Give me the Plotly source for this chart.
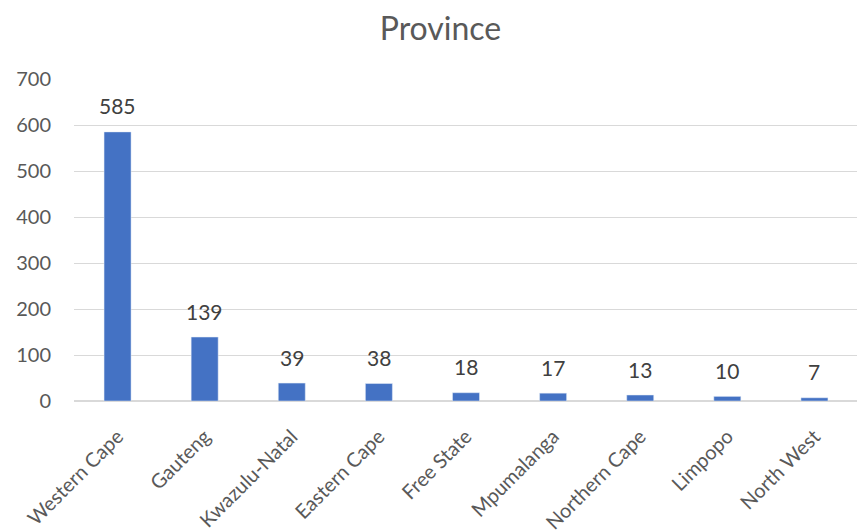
import plotly.graph_objects as go

# Dados
provinces = ["Western Cape", "Gauteng", "Kwazulu-Natal", "Eastern Cape", "Free State",
             "Mpumalanga", "Northern Cape", "Limpopo", "North West"]
counts = [585, 139, 39, 38, 18, 17, 13, 10, 7]
y_ticks = [0, 100, 200, 300, 400, 500, 600, 700]

FONT = "Lato, Calibri, sans-serif"

fig = go.Figure(
    go.Bar(
        x=provinces,
        y=counts,
        marker_color="#4472C4",
        hoverinfo="x+y",
    )
)

# Rótulos de dados acima das barras
for prov, val in zip(provinces, counts):
    fig.add_annotation(
        x=prov,
        y=val,
        text=str(val),
        showarrow=False,
        yanchor="middle",
        yshift=26,
        font=dict(size=21, color="#404040", family=FONT),
    )

fig.update_layout(
    width=865,
    height=532,
    margin=dict(l=66, r=15, t=71, b=139),
    plot_bgcolor="white",
    paper_bgcolor="white",
    bargap=0.69,
    showlegend=False,
    title=dict(
        text="Province",
        x=0.50,
        xanchor="center",
        y=0.961,
        yanchor="middle",
        font=dict(size=32, color="#595959", family=FONT),
    ),
    font=dict(family=FONT, color="#595959"),
)

fig.update_yaxes(
    range=[0, 700],
    tickvals=y_ticks,
    showgrid=True,
    gridcolor="#D9D9D9",
    gridwidth=1,
    zeroline=True,
    zerolinecolor="#D9D9D9",
    showline=False,
    tickfont=dict(size=20, color="#595959"),
    ticklabelstandoff=22,
    automargin=False,
)

fig.update_xaxes(
    tickangle=-45,
    showline=False,
    tickfont=dict(size=20, color="#595959"),
    ticklabelstandoff=19,
    automargin=False,
)

fig.write_html("out.html")
